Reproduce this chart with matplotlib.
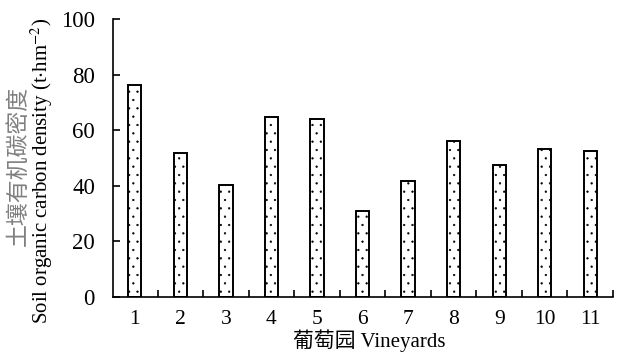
import matplotlib
matplotlib.use("Agg")
import matplotlib.pyplot as plt
import numpy as np

# Soil organic carbon density of each vineyard (t·hm^-2)
vineyards = ["1", "2", "3", "4", "5", "6", "7", "8", "9", "10", "11"]
carbon_density = [76.3, 51.8, 40.3, 64.7, 64.2, 31.0, 41.7, 56.1, 47.5, 53.2, 52.5]
y_ticks = [0, 20, 40, 60, 80, 100]

plt.rcParams["font.family"] = ["Liberation Serif", "Noto Sans CJK SC"]
plt.rcParams["mathtext.fontset"] = "stix"
plt.rcParams["hatch.linewidth"] = 0.4
plt.rcParams["hatch.color"] = "#222222"

W, H = 620, 352
fig = plt.figure(figsize=(W / 100, H / 100), dpi=100)
ax = fig.add_axes([113 / W, 1 - 297 / H, (613 - 113) / W, (297 - 19) / H])

x = np.arange(1, len(vineyards) + 1)
ax.bar(x, carbon_density, width=0.29, facecolor="white", edgecolor="black",
       linewidth=1.4, hatch="..", zorder=2)

ax.set_xlim(0.52, 11.5)
ax.set_ylim(0, 100)

for side in ("top", "right"):
    ax.spines[side].set_visible(False)
for side in ("left", "bottom"):
    ax.spines[side].set_linewidth(1.2)

ax.set_yticks(y_ticks)
ax.set_yticklabels([str(v) for v in y_ticks])
ax.tick_params(axis="y", direction="in", length=5, width=1.2, pad=13, labelsize=16.5)

ax.set_xticks(x)
ax.set_xticklabels(vineyards)
ax.set_xticks(np.arange(1.5, len(vineyards) + 1, 1.0), minor=True)
ax.tick_params(axis="x", which="major", length=0, pad=9, labelsize=15.5)
ax.tick_params(axis="x", which="minor", direction="in", length=5, width=1.2)

# x-axis title
fig.text(369 / W, 1 - 341 / H, "葡萄园 Vineyards", ha="center", va="center",
         fontsize=15, color="black")

# Two-line bilingual y-axis title
fig.text(18 / W, 1 - 166 / H, "土壤有机碳密度", rotation=90, ha="center", va="center",
         fontsize=16.5, color="#808080", family=["Noto Sans CJK SC"])
fig.text(42 / W, 1 - 171 / H, r"Soil organic carbon density (t$\cdot$hm$^{-2}$)",
         rotation=90, ha="center", va="center", fontsize=15, color="black")

fig.savefig("out.png", dpi=100)
